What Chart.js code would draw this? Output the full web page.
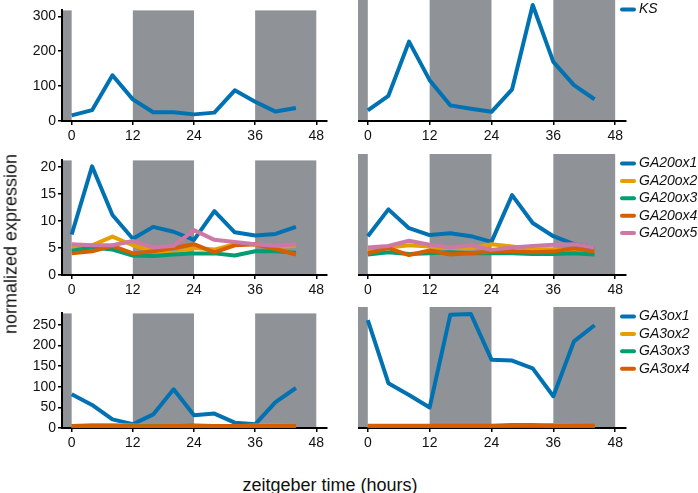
<!DOCTYPE html>
<html>
<head>
<meta charset="utf-8">
<script src="https://cdn.jsdelivr.net/npm/chart.js@4.4.1/dist/chart.umd.min.js"></script>
<style>
  body { margin: 0; background: #fff; width: 698px; height: 493px; overflow: hidden; position: relative;
         font-family: "Liberation Sans", Arial, sans-serif; color: #111; }
  canvas { position: absolute; }
  .ylab { position: absolute; left: 11px; top: 244px; transform: translate(-50%, -50%) rotate(-90deg);
          font-size: 18px; white-space: nowrap; }
  .xlab { position: absolute; left: 330px; top: 485px; transform: translate(-50%, -50%);
          font-size: 18px; white-space: nowrap; }
</style>
</head>
<body>
<canvas id="c1" width="340" height="150" style="left:0;top:0"></canvas>
<canvas id="c2" width="340" height="150" style="left:358px;top:0"></canvas>
<canvas id="c3" width="340" height="154" style="left:0;top:150px"></canvas>
<canvas id="c4" width="340" height="154" style="left:358px;top:150px"></canvas>
<canvas id="c5" width="340" height="154" style="left:0;top:303px"></canvas>
<canvas id="c6" width="340" height="154" style="left:358px;top:303px"></canvas>
<div class="ylab">normalized expression</div>
<div class="xlab">zeitgeber time (hours)</div>

<script>
// sampling times (h)
const times = [0, 4, 8, 12, 16, 20, 24, 28, 32, 36, 40, 44];
const xTicks = [0, 12, 24, 36, 48];
// dark periods
const nightStart = [-12, 12, 36];
const nightEnd = [0, 24, 48];

// KS
const ksA = [16, 31, 131, 62, 25, 25, 19, 24, 88, 55, 27, 37];
const ksB = [28, 66, 208, 107, 41, 32, 24, 83, 304, 155, 94, 57];

// GA20ox
const ga20ox1A = [7.5, 20.1, 11.1, 6.7, 8.9, 8.0, 6.5, 11.8, 7.9, 7.3, 7.6, 8.9];
const ga20ox2A = [5.2, 5.5, 7.1, 5.5, 4.4, 4.0, 5.0, 4.7, 5.7, 5.7, 5.2, 5.4];
const ga20ox3A = [4.5, 5.1, 4.7, 3.6, 3.5, 3.8, 4.0, 4.0, 3.6, 4.4, 4.4, 4.1];
const ga20ox4A = [4.0, 4.4, 5.4, 4.0, 4.4, 5.0, 5.7, 4.2, 5.5, 5.7, 4.8, 3.8];
const ga20ox5A = [5.7, 5.5, 5.5, 6.3, 5.1, 5.4, 8.3, 6.5, 6.1, 5.7, 5.4, 5.7];

const ga20ox1B = [6.8, 11.5, 8.2, 7.0, 7.3, 6.8, 5.8, 14.0, 9.1, 6.8, 5.4, 4.7];
const ga20ox2B = [4.3, 4.8, 5.2, 5.0, 4.7, 4.7, 5.4, 5.0, 4.5, 4.5, 4.3, 4.1];
const ga20ox3B = [3.6, 4.0, 3.7, 3.8, 4.0, 3.8, 3.8, 3.8, 3.7, 3.7, 3.8, 3.6];
const ga20ox4B = [3.8, 4.7, 3.5, 4.3, 3.6, 3.8, 4.1, 4.2, 4.0, 4.1, 4.7, 4.1];
const ga20ox5B = [4.8, 5.1, 6.0, 5.3, 4.8, 5.2, 4.4, 4.8, 5.1, 5.3, 5.4, 4.8];

// GA3ox
const ga3ox1A = [82, 56, 21, 9, 33, 94, 31, 35, 13, 9, 63, 97];
const ga3ox2A = [5, 7, 7, 6, 5, 4, 4, 4, 4, 6, 6, 5];
const ga3ox3A = [4, 4, 4, 4, 4, 4, 6, 5, 4, 4, 4, 4];
const ga3ox4A = [5, 5, 5, 4, 4, 5, 5, 5, 5, 5, 5, 5];

const ga3ox1B = [248, 103, 76, 47, 260, 262, 157, 155, 137, 73, 199, 236];
const ga3ox2B = [4, 4, 4, 4, 4, 4, 4, 5, 5, 7, 5, 4];
const ga3ox3B = [4, 4, 4, 4, 4, 4, 4, 4, 4, 4, 4, 4];
const ga3ox4B = [5, 5, 5, 5, 5, 5, 5, 7, 7, 5, 5, 5];

const yTicksKS = [0, 50, 100, 150, 200, 250, 300];
const yTicksGA20 = [0, 5, 10, 15, 20];
const yTicksGA3 = [0, 50, 100, 150, 200, 250];

const colors = ['#0072B2', '#E69F00', '#009E73', '#D55E00', '#CC79A7'];
const FONT = '"Liberation Sans", Arial, sans-serif';

// grey bars for the dark periods
const nightPlugin = {
  id: 'night',
  beforeDraw(chart) {
    const { ctx, chartArea: a, scales: { x } } = chart;
    ctx.save();
    ctx.fillStyle = '#8f9296';
    nightStart.forEach((s, i) => {
      const x1 = x.getPixelForValue(Math.max(s, x.min));
      const x2 = x.getPixelForValue(nightEnd[i]);
      ctx.fillRect(x1, a.top, x2 - x1, a.bottom - a.top);
    });
    ctx.restore();
  }
};

// legend on the right of the second column
const keyPlugin = {
  id: 'key',
  afterDraw(chart, args, opts) {
    if (!opts.show) return;
    const { ctx, chartArea: a } = chart;
    const x0 = a.right - 4;
    ctx.save();
    ctx.font = 'italic 14px ' + FONT;
    ctx.textBaseline = 'middle';
    chart.data.datasets.forEach((ds, i) => {
      const y = a.top + 9.5 + i * 17.4;
      ctx.strokeStyle = ds.borderColor;
      ctx.lineWidth = 4;
      ctx.lineCap = 'round';
      ctx.beginPath();
      ctx.moveTo(x0, y);
      ctx.lineTo(x0 + 12, y);
      ctx.stroke();
      ctx.fillStyle = '#111';
      ctx.fillText(ds.label, x0 + 17, y);
    });
    ctx.restore();
  }
};

function makePanel(id, names, series, yMax, yTicks, leftCol, padTop) {
  const datasets = names.map((n, i) => ({
    label: n,
    data: times.map((t, j) => ({ x: t, y: series[i][j] })),
    borderColor: colors[i],
    borderWidth: 4,
    pointRadius: 0,
    borderJoinStyle: 'round',
    fill: false,
    order: names.length - i
  }));

  new Chart(document.getElementById(id), {
    type: 'line',
    data: { datasets },
    plugins: [nightPlugin, keyPlugin],
    options: {
      responsive: false,
      animation: false,
      events: [],
      layout: { padding: { top: padTop, right: leftCol ? 13 : 72, left: 0, bottom: 0 } },
      plugins: {
        legend: { display: false },
        tooltip: { enabled: false },
        key: { show: !leftCol }
      },
      scales: {
        x: {
          type: 'linear',
          min: -1.9,
          max: 50.1,
          afterBuildTicks: s => { s.ticks = xTicks.map(v => ({ value: v })); },
          afterFit: s => { s.height = 29; },
          border: { color: '#000', width: 2 },
          grid: { drawOnChartArea: false, color: '#000', lineWidth: 1.5, tickLength: 4 },
          ticks: { color: '#111', font: { family: FONT, size: 14 }, padding: 3, maxRotation: 0 }
        },
        y: {
          display: leftCol,
          min: 0,
          max: yMax,
          afterBuildTicks: s => { s.ticks = yTicks.map(v => ({ value: v })); },
          afterFit: s => { s.width = leftCol ? 62 : 0; },
          border: { color: '#000', width: 2 },
          grid: { drawOnChartArea: false, color: '#000', lineWidth: 1.5, tickLength: 4 },
          ticks: { color: '#111', font: { family: FONT, size: 14 }, padding: 2 }
        }
      }
    }
  });
}

const ksNames = ['KS'];
const ga20Names = ['GA20ox1', 'GA20ox2', 'GA20ox3', 'GA20ox4', 'GA20ox5'];
const ga3Names = ['GA3ox1', 'GA3ox2', 'GA3ox3', 'GA3ox4'];

makePanel('c1', ksNames, [ksA], 317, yTicksKS, true, 0);
makePanel('c2', ksNames, [ksB], 317, yTicksKS, false, 0);
makePanel('c3', ga20Names, [ga20ox1A, ga20ox2A, ga20ox3A, ga20ox4A, ga20ox5A], 21.2, yTicksGA20, true, 4);
makePanel('c4', ga20Names, [ga20ox1B, ga20ox2B, ga20ox3B, ga20ox4B, ga20ox5B], 21.2, yTicksGA20, false, 4);
makePanel('c5', ga3Names, [ga3ox1A, ga3ox2A, ga3ox3A, ga3ox4A], 278, yTicksGA3, true, 4);
makePanel('c6', ga3Names, [ga3ox1B, ga3ox2B, ga3ox3B, ga3ox4B], 278, yTicksGA3, false, 4);
</script>
</body>
</html>
